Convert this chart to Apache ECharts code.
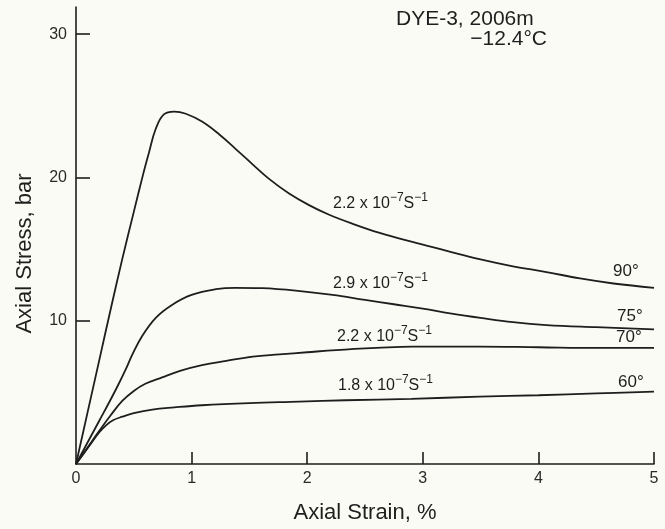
<!DOCTYPE html>
<html>
<head>
<meta charset="utf-8">
<script src="https://cdn.jsdelivr.net/npm/echarts@6/dist/echarts.min.js"></script>
<style>html,body{margin:0;padding:0;background:#fbfbf5;}#c{width:665px;height:529px;}</style>
</head>
<body>
<div id="c"></div>
<script>
// Axial strain (%) / axial stress (bar) for each curve
const strain90 = [0, 0.1, 0.2, 0.3, 0.4, 0.5, 0.58, 0.63, 0.69, 0.76, 0.85, 0.95, 1.09, 1.24, 1.38, 1.53, 1.67, 1.84, 2.02, 2.19, 2.4, 2.62, 2.91, 3.2, 3.49, 3.78, 4.07, 4.36, 4.65, 5.0];
const stress90 = [0, 3.6, 7.2, 10.8, 14.3, 17.6, 20.2, 21.7, 23.4, 24.4, 24.6, 24.45, 23.9, 23.0, 22.0, 20.9, 19.9, 18.9, 18.05, 17.4, 16.75, 16.15, 15.5, 14.9, 14.3, 13.8, 13.4, 12.95, 12.6, 12.3];
const strain75 = [0, 0.1, 0.2, 0.3, 0.37, 0.43, 0.485, 0.57, 0.69, 0.83, 1.0, 1.21, 1.38, 1.61, 1.9, 2.22, 2.5, 2.75, 3.0, 3.25, 3.5, 3.78, 4.07, 4.5, 5.0];
const stress75 = [0, 1.5, 3.0, 4.5, 5.6, 6.6, 7.6, 8.9, 10.2, 11.1, 11.8, 12.2, 12.3, 12.27, 12.1, 11.8, 11.45, 11.15, 10.85, 10.5, 10.2, 9.9, 9.7, 9.55, 9.4];
const strain70 = [0, 0.1, 0.2, 0.3, 0.4, 0.5, 0.6, 0.745, 0.9, 1.09, 1.3, 1.53, 1.76, 2.0, 2.25, 2.6, 2.91, 3.49, 4.0, 4.5, 5.0];
const stress70 = [0, 1.15, 2.3, 3.4, 4.4, 5.1, 5.6, 6.05, 6.5, 6.9, 7.2, 7.5, 7.65, 7.8, 7.95, 8.1, 8.2, 8.2, 8.15, 8.1, 8.1];
const strain60 = [0, 0.1, 0.2, 0.26, 0.32, 0.4, 0.5, 0.66, 0.85, 1.09, 1.5, 1.93, 2.33, 2.9, 3.49, 4.0, 4.5, 5.0];
const stress60 = [0, 1.1, 2.2, 2.7, 3.05, 3.3, 3.55, 3.8, 3.95, 4.1, 4.25, 4.35, 4.45, 4.55, 4.7, 4.8, 4.93, 5.05];

const xTickLabels = [0, 1, 2, 3, 4, 5];
const yTickLabels = [10, 20, 30];
const angleLabels = ['90°', '75°', '70°', '60°'];
const rateLabels = [['2.2', '−7', '−1'], ['2.9', '−7', '−1'], ['2.2', '−7', '−1'], ['1.8', '−7', '−1']];
const titleLines = ['DYE-3, 2006m', '−12.4°C'];

const FONT = '"Liberation Sans", Arial, sans-serif';
const INK = '#1e1e1e';
const zip = (a, b) => a.map((v, i) => [v, b[i]]);

function curve(name, xs, ys) {
  return {
    name, type: 'line', data: zip(xs, ys), smooth: 0.4, showSymbol: false,
    lineStyle: { color: INK, width: 1.8 }, silent: true
  };
}

function rateText(r) {
  return '{n|' + r[0] + ' x 10}{s|' + r[1] + '}{n|S}{s|' + r[2] + '}';
}
const richStyle = {
  n: { fontSize: 16, fontFamily: FONT, fill: INK, color: INK, verticalAlign: 'bottom', lineHeight: 20 },
  s: { fontSize: 12, fontFamily: FONT, fill: INK, color: INK, verticalAlign: 'top', lineHeight: 20 }
};

const ratePos = [[333, 192], [333, 272], [337, 325], [338, 374]];
const anglePos = [[613, 263], [617, 308], [616, 329], [618, 374]];

const graphics = [];
rateLabels.forEach((r, i) => {
  graphics.push({ type: 'text', left: ratePos[i][0], top: ratePos[i][1], silent: true,
    style: { text: rateText(r), rich: richStyle, fill: INK } });
});
angleLabels.forEach((t, i) => {
  graphics.push({ type: 'text', left: anglePos[i][0], top: anglePos[i][1], silent: true,
    style: { text: t, font: '17px ' + FONT, fill: INK } });
});
graphics.push({ type: 'text', left: 396, top: 9, silent: true, style: { text: titleLines[0], font: '21px ' + FONT, fill: INK } });
graphics.push({ type: 'text', right: 665 - 547, top: 29, silent: true, style: { text: titleLines[1], font: '21px ' + FONT, fill: INK } });

const chart = echarts.init(document.getElementById('c'), null, { renderer: 'canvas' });
chart.setOption({
  backgroundColor: '#fbfbf5',
  animation: false,
  grid: { left: 76, right: 11, top: 7, bottom: 63, containLabel: false },
  xAxis: {
    type: 'value', min: 0, max: 5, interval: 1,
    name: 'Axial Strain, %', nameLocation: 'middle', nameGap: 38,
    nameTextStyle: { fontFamily: FONT, fontSize: 22, color: INK },
    axisLine: { lineStyle: { color: INK, width: 1.6 } },
    axisTick: { inside: true, length: 12, customValues: [1, 2, 3, 4, 5], lineStyle: { color: INK, width: 1.6 } },
    axisLabel: { customValues: xTickLabels, fontFamily: FONT, fontSize: 16, color: '#2a2a2a', margin: 7 },
    splitLine: { show: false }
  },
  yAxis: {
    type: 'value', min: 0, max: 31.9,
    name: 'Axial Stress, bar', nameLocation: 'middle', nameGap: 40,
    nameTextStyle: { fontFamily: FONT, fontSize: 22, color: INK, padding: [0, 36, 0, 0] },
    axisLine: { show: true, lineStyle: { color: INK, width: 1.6 } },
    axisTick: { show: true, inside: true, length: 14, customValues: yTickLabels, lineStyle: { color: INK, width: 1.6 } },
    axisLabel: { customValues: yTickLabels, fontFamily: FONT, fontSize: 16, color: '#2a2a2a', margin: 9 },
    splitLine: { show: false }
  },
  series: [
    curve('90°', strain90, stress90),
    curve('75°', strain75, stress75),
    curve('70°', strain70, stress70),
    curve('60°', strain60, stress60)
  ],
  graphic: graphics
});
</script>
</body>
</html>
